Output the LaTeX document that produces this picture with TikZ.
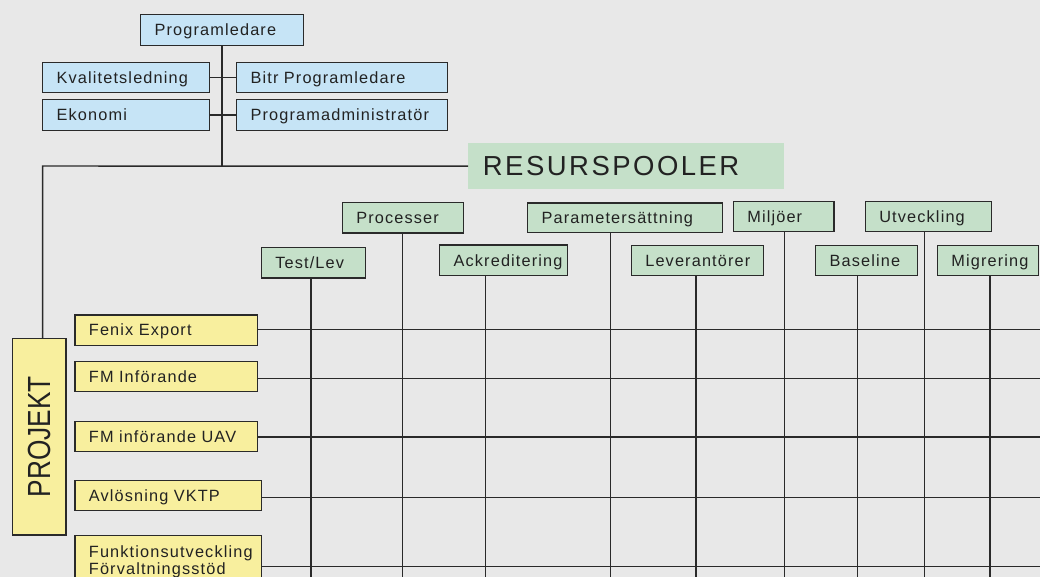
\documentclass[tikz,border=0pt]{standalone}
\usepackage{fontspec}
\setmainfont{Liberation Sans}
\newfontfamily\fsmall[LetterSpace=7]{Liberation Sans}
\newfontfamily\fbig[LetterSpace=9]{Liberation Sans}
\definecolor{bgc}{HTML}{E8E8E8}
\definecolor{bluec}{HTML}{C6E4F6}
\definecolor{greenc}{HTML}{C5E0C9}
\definecolor{yellowc}{HTML}{F8EF9E}
\definecolor{linec}{HTML}{2A2A2A}
\definecolor{txtc}{HTML}{222222}
\tikzset{
  boxbase/.style={draw=linec, line width=1.25pt, inner ysep=0pt, anchor=north west, text=txtc},
  lbox/.style={boxbase, inner xsep=14pt, text height=11.6pt, text depth=0pt, align=left,
    font=\fsmall\fontsize{16.3}{17.3}\selectfont},
  conn/.style={draw=linec, line width=1.45pt},
}
\newcommand\bx[7]{%
  \pgfmathsetmacro\bw{#4-#2}\pgfmathsetmacro\bh{#5-#3}\pgfmathsetmacro\tw{#4-#2-28}%
  \node[lbox, fill=#6, minimum width=\bw pt, minimum height=\bh pt, text width=\tw pt] (#1) at (#2,#3) {#7};}
\begin{document}
\begin{tikzpicture}[x=1pt,y=-1pt]
\useasboundingbox (0,0) rectangle (1040,577);
\clip (0,0) rectangle (1040,577);
\fill[bgc] (0,0) rectangle (1040,577);

% coordinates for free ends
\coordinate (corner) at (42.7,166);
\coordinate (c1) at (311,580);
\coordinate (c2) at (402.7,580);
\coordinate (c3) at (485.3,580);
\coordinate (c4) at (610.3,580);
\coordinate (c5) at (696,580);
\coordinate (c6) at (784.3,580);
\coordinate (c7) at (857.7,580);
\coordinate (c8) at (924.3,580);
\coordinate (c9) at (990,580);
\coordinate (r1) at (1045,329.3);
\coordinate (r2) at (1045,378.7);
\coordinate (r3) at (1045,437);
\coordinate (r4) at (1045,497.3);
\coordinate (r5) at (1045,566.3);

% top hierarchy
\bx{prog}{140}{14}{303}{45}{bluec}{Programledare}
\bx{kval}{42}{62}{209}{92}{bluec}{Kvalitetsledning}
\bx{bitr}{236}{62}{447}{92}{bluec}{Bitr Programledare}
\bx{eko}{42}{99}{209}{130}{bluec}{Ekonomi}
\bx{adm}{236}{99}{447}{130}{bluec}{Programadministratör}

\node[anchor=north west, fill=greenc, inner xsep=14.7pt, inner ysep=0pt,
  minimum width=316pt, minimum height=46pt, text width=286.6pt, align=left,
  text height=19.5pt, text depth=0pt, text=txtc,
  font=\fbig\fontsize{27.5}{30}\selectfont] (res) at (468,143) {RESURSPOOLER};

% projects
\node[boxbase, fill=yellowc, minimum width=53.3pt, minimum height=196.3pt, inner xsep=0pt] (projekt) at (12,338)
  {\rotatebox{90}{\scalebox{0.82}[1]{\fontsize{32}{32}\selectfont PROJEKT}}};
\bx{fenix}{74.3}{314.3}{256.7}{344.7}{yellowc}{Fenix Export}
\bx{fmi}{74.3}{360.7}{256.7}{391}{yellowc}{FM Införande}
\bx{uav}{74.3}{420.7}{256.7}{450.7}{yellowc}{FM införande UAV}
\bx{avl}{74.3}{479.7}{261}{510}{yellowc}{Avlösning VKTP}
\node[boxbase, fill=yellowc, inner xsep=14pt, inner ysep=10.2pt, minimum width=186.7pt,
  text width=158.7pt, align=left, font=\fsmall\fontsize{16.3}{17.3}\selectfont] (funk) at (74.3,534.7)
  {Funktionsutveckling\\Förvaltningsstöd\\[20pt]};

% project row lines
\draw[conn] (fenix.east |- r1) -- (r1);
\draw[conn] (fmi.east |- r2) -- (r2);
\draw[conn] (uav.east |- r3) -- (r3);
\draw[conn] (avl.east |- r4) -- (r4);
\draw[conn] (funk.east |- r5) -- (r5);

% resource pools
\bx{proc}{341.7}{202}{462.7}{232.3}{greenc}{Processer}
\bx{test}{260.7}{246.7}{365}{277.3}{greenc}{Test/Lev}
\bx{ack}{439}{244.3}{567}{275}{greenc}{Ackreditering}
\bx{param}{527}{202.3}{721.7}{231.7}{greenc}{Parametersättning}
\bx{lev}{630.7}{245}{762.7}{275}{greenc}{Leverantörer}
\bx{milj}{732.7}{200.7}{833.3}{230.7}{greenc}{Miljöer}
\bx{base}{815}{244.7}{916.7}{275}{greenc}{Baseline}
\bx{utv}{864.7}{200.7}{990.7}{231}{greenc}{Utveckling}
\bx{migr}{936.7}{244.7}{1038}{275}{greenc}{Migrering}

% column lines
\draw[conn] (test.south -| c1) -- (c1);
\draw[conn] (proc.south -| c2) -- (c2);
\draw[conn] (ack.south -| c3) -- (c3);
\draw[conn] (param.south -| c4) -- (c4);
\draw[conn] (lev.south -| c5) -- (c5);
\draw[conn] (milj.south -| c6) -- (c6);
\draw[conn] (base.south -| c7) -- (c7);
\draw[conn] (utv.south -| c8) -- (c8);
\draw[conn] (migr.south -| c9) -- (c9);

% hierarchy connectors
\draw[conn] (prog.south) -- (prog.south |- res.west);
\draw[conn] (kval.east) -- (bitr.west);
\draw[conn] (eko.east) -- (adm.west);
\draw[conn] (res.west) -- (corner) -- (corner |- projekt.north);
\end{tikzpicture}
\end{document}
